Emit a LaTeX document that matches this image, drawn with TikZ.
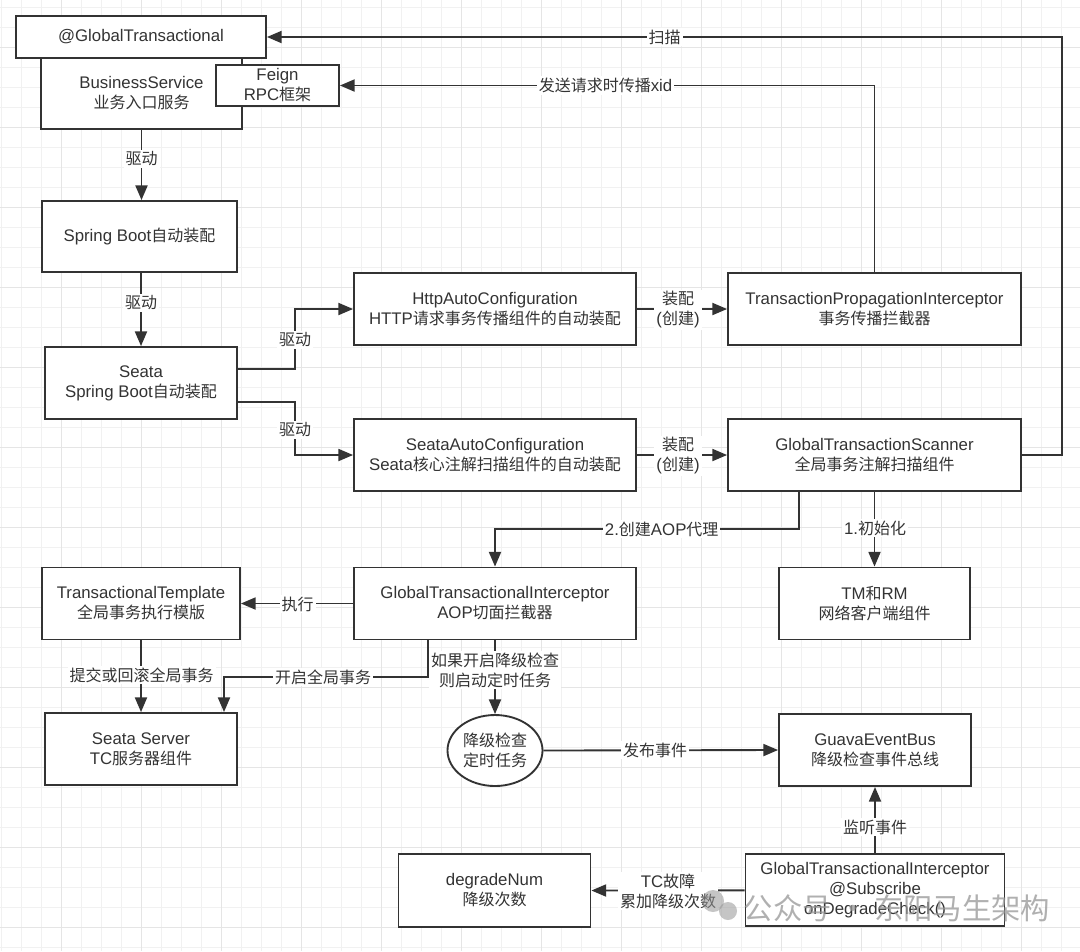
\documentclass[tikz,border=0pt]{standalone}
\usepackage{fontspec}
\setmainfont{Liberation Sans}[Scale=1.05]
\newfontfamily\zhfont{Noto Sans CJK SC}
\newcommand\zhf[1]{{\zhfont #1}}
\usetikzlibrary{arrows.meta,shapes.geometric,calc}
\newdimen\pxu \pxu=0.75pt
\definecolor{ink}{RGB}{51,51,51}
\definecolor{gridminor}{RGB}{241,241,241}
\definecolor{gridmajor}{RGB}{229,229,229}
\definecolor{wmark}{RGB}{150,150,150}
\begin{document}
\begin{tikzpicture}[x=0.75pt,y=-0.75pt,
  box/.style={draw=ink, line width=1.4pt, fill=white, text=ink, align=center, inner sep=0pt, font=\fontsize{12}{15}\selectfont},
  conn/.style={draw=ink, line width=1.4pt},
  arr/.style={conn, -{Triangle[length=11pt,width=9pt]}},
  lbl/.style={fill=white, text=ink, inner sep=1.5pt, align=center, font=\fontsize{12}{15}\selectfont},
]
\fill[white] (0,0) rectangle (1080,951);
\useasboundingbox (0,0) rectangle (1080,951);
% grid
\foreach \x in {1.7,21.7,...,1080} \draw[gridminor, line width=0.75pt] (\x,0) -- (\x,951);
\foreach \y in {7.7,27.7,...,951} \draw[gridminor, line width=0.75pt] (0,\y) -- (1080,\y);
\foreach \x in {61.7,141.7,...,1080} \draw[gridmajor, line width=1.1pt] (\x,0) -- (\x,951);
\foreach \y in {47.7,127.7,...,951} \draw[gridmajor, line width=1.1pt] (0,\y) -- (1080,\y);

% nodes
\node[box, minimum width=201\pxu, minimum height=71\pxu] (bs) at (141.5,93.5) {BusinessService\\\zhf{业务入口服务}};
\node[box, minimum width=250\pxu, minimum height=42\pxu] (gt) at (141,37) {@GlobalTransactional};
\node[box, minimum width=123\pxu, minimum height=41\pxu] (feign) at (277.5,85.5) {Feign\\RPC\zhf{框架}};
\node[box, minimum width=195\pxu, minimum height=71\pxu] (sb) at (139.5,236.5) {Spring Boot\zhf{自动装配}};
\node[box, minimum width=192\pxu, minimum height=72\pxu] (seata) at (141,383) {Seata\\Spring Boot\zhf{自动装配}};
\node[box, minimum width=282\pxu, minimum height=72\pxu] (http) at (495,309) {HttpAutoConfiguration\\HTTP\zhf{请求事务传播组件的自动装配}};
\node[box, minimum width=282\pxu, minimum height=72\pxu] (sac) at (495,455) {SeataAutoConfiguration\\Seata\zhf{核心注解扫描组件的自动装配}};
\node[box, minimum width=293\pxu, minimum height=72\pxu] (tpi) at (874.5,309) {TransactionPropagationInterceptor\\\zhf{事务传播拦截器}};
\node[box, minimum width=293\pxu, minimum height=72\pxu] (gts) at (874.5,455) {GlobalTransactionScanner\\\zhf{全局事务注解扫描组件}};
\node[box, minimum width=282\pxu, minimum height=72\pxu] (gti) at (495,603.5) {GlobalTransactionalInterceptor\\AOP\zhf{切面拦截器}};
\node[box, minimum width=191\pxu, minimum height=72\pxu] (tmrm) at (874.5,603.5) {TM\zhf{和}RM\\\zhf{网络客户端组件}};
\node[box, minimum width=198\pxu, minimum height=72\pxu] (tt) at (141,603.5) {TransactionalTemplate\\\zhf{全局事务执行模版}};
\node[box, minimum width=192\pxu, minimum height=72\pxu] (ss) at (141,749) {Seata Server\\TC\zhf{服务器组件}};
\node[box, ellipse, minimum width=95\pxu, minimum height=71\pxu] (ell) at (495,750.5) {\zhf{降级检查}\\\zhf{定时任务}};
\node[box, minimum width=192\pxu, minimum height=72\pxu] (geb) at (875,750) {GuavaEventBus\\\zhf{降级检查事件总线}};
\node[box, minimum width=259\pxu, minimum height=72\pxu] (gti2) at (875,890.3) {GlobalTransactionalInterceptor\\@Subscribe\\onDegradeCheck()};
\node[box, minimum width=192\pxu, minimum height=73\pxu] (dn) at (494.5,890.5) {degradeNum\\\zhf{降级次数}};

% connectors
\draw[arr] (bs.south) -- (bs.south |- sb.north);
\draw[arr] (seata.north |- sb.south) -- (seata.north);
\draw[arr] (seata.east |- 0,369) -- (295,369) -- (295,309) -- (http.west);
\draw[arr] (seata.east |- 0,401.7) -- (295,401.7) -- (295,455) -- (sac.west);
\draw[arr] (http.east) -- (tpi.west);
\draw[arr] (sac.east) -- (gts.west);
\draw[arr] (gts.east) -| (1061.7,37) -- (gt.east);
\draw[arr] (tpi.north) |- (feign.east);
\draw[arr] (gts.south -| 799,0) -- (799,529) -| (gti.north);
\draw[arr] (gts.south) -- (tmrm.north);
\draw[arr] (gti.west) -- (tt.east);
\draw[arr] (tt.south) -- (ss.north);
\draw[arr] (gti.south -| 427.7,0) -- (427.7,676.7) -| (ss.north -| 224,0);
\draw[arr] (gti.south) -- (ell.north);
\draw[arr] (ell.east) -- (geb.west);
\draw[arr] (gti2.north) -- (geb.south);
\draw[arr] (gti2.west) -- (dn.east);

% labels
\node[lbl] (l1) at (141.5,159) {\zhf{驱动}};
\node[lbl] (l2) at (141,303) {\zhf{驱动}};
\node[lbl] (l3) at (295,340) {\zhf{驱动}};
\node[lbl] (l4) at (295,430) {\zhf{驱动}};
\node[lbl] (l5) at (678,310) {\zhf{装配}\\(\zhf{创建})};
\node[lbl] (l6) at (678,456) {\zhf{装配}\\(\zhf{创建})};
\node[lbl] (l7) at (664.6,37) {\zhf{扫描}};
\node[lbl] (l8) at (605.5,85.5) {\zhf{发送请求时传播}xid};
\node[lbl] (l9) at (661.7,529) {2.\zhf{创建}AOP\zhf{代理}};
\node[lbl] (l10) at (875,528) {1.\zhf{初始化}};
\node[lbl] (l11) at (297.7,604) {\zhf{执行}};
\node[lbl] (l12) at (141.5,675) {\zhf{提交或回滚全局事务}};
\node[lbl] (l13) at (323,677) {\zhf{开启全局事务}};
\node[lbl] (l14) at (495,670) {\zhf{如果开启降级检查}\\\zhf{则启动定时任务}};
\node[lbl] (l15) at (655,750) {\zhf{发布事件}};
\node[lbl] (l16) at (875,827) {\zhf{监听事件}};
\node[lbl] (l17) at (668,891) {TC\zhf{故障}\\\zhf{累加降级次数}};

% watermark
\fill[wmark, opacity=0.55] (713,901) circle[radius=11];
\fill[wmark, opacity=0.55] (728,911) circle[radius=9];
\node[text=wmark, opacity=0.75, font=\fontsize{22}{26}\selectfont, inner sep=0pt] (wm) at (897,908) {\zhf{公众号 · 东阳马生架构}};
\end{tikzpicture}
\end{document}
